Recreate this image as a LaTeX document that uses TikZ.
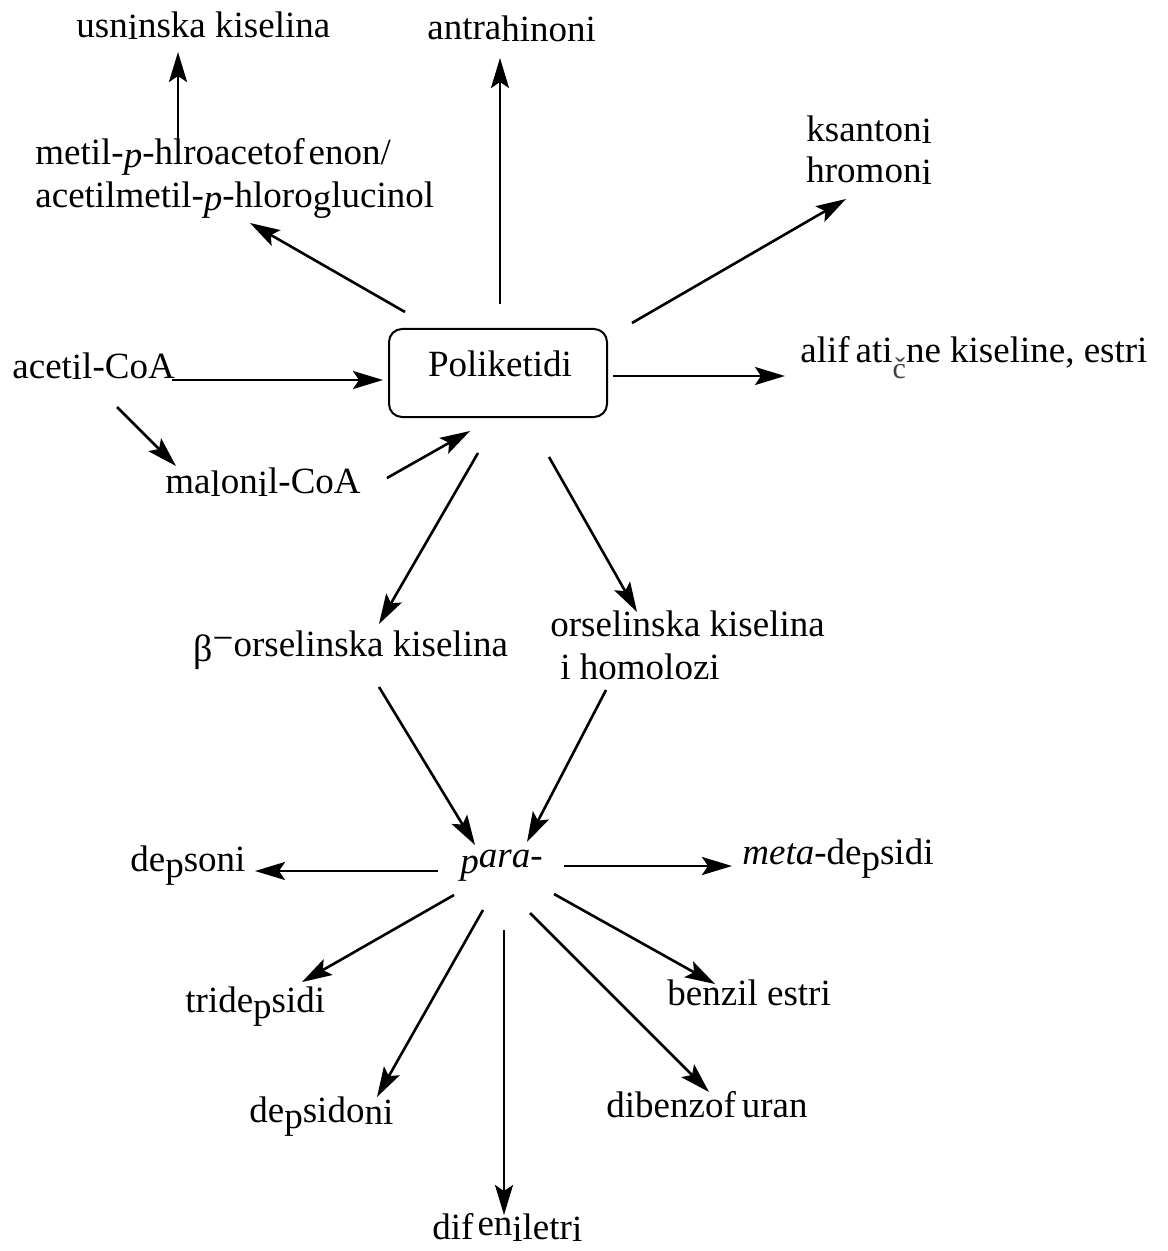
\documentclass[tikz,border=0pt]{standalone}
\usepackage{fontspec}
\setmainfont{Liberation Serif}
\usetikzlibrary{arrows.meta}
\newcommand\lowr[2][1.5pt]{\raisebox{-#1}{#2}}
\begin{document}
\begin{tikzpicture}[x=0.5pt,y=-0.5pt,
  lbl/.style={inner sep=0pt, anchor=base west, font=\fontsize{18.5}{21.5}\selectfont},
  arr/.style={line width=1.3pt, -{Stealth[length=15pt,width=9pt,inset=3pt]}},
  pbox/.style={draw, line width=1pt, rounded corners=6.5pt, minimum width=109pt, minimum height=44pt, inner sep=0pt}]
\useasboundingbox (0,0) rectangle (1167,1251);

% ---------- nodes ----------
\node[lbl] (usn) at (76,38) {usn\lowr[1pt]{i}nska kiselina};
\node[lbl] (antra) at (427,40) {antra\lowr[1pt]{hinoni}};
\node[lbl] (metil) at (35,165) {\begin{tabular}[t]{@{}l@{}}metil-\lowr{\textit{p}}-hlroacetof\kern2pt enon/\\ acetilmetil-\lowr{\textit{p}}-hloro\lowr{g}lucinol\end{tabular}};
\node[lbl] (ksan) at (806,142) {\begin{tabular}[t]{@{}l@{}}ksanton\lowr[1pt]{i}\\[-1pt] hromon\lowr[1pt]{i}\end{tabular}};
\node[lbl] (alif) at (800,363) {alif\kern3pt ati\raisebox{-8pt}{\color{black!75}\fontsize{15}{15}\selectfont č}ne kiseline, estri};
\node[pbox] (poli) at (498,373) {};
\node[lbl, anchor=base] (politxt) at (500,376) {Poliketidi};
\node[lbl] (acetil) at (12,378) {acet\lowr[1pt]{i}l-CoA};
\node[lbl] (malonil) at (165,493) {ma\lowr{l}on\lowr{i}l-CoA};
\node[lbl] (beta) at (193,656) {\lowr[2.5pt]{\fontsize{19}{19}\selectfont β}\raisebox{3pt}{−}orselinska kiselina};
\node[lbl] (orsel) at (550,636) {\begin{tabular}[t]{@{}l@{}}orselinska kiselina\\ \hspace*{5pt}i homolozi\end{tabular}};
\node[lbl] (para) at (460,873) {\textit{p}\raisebox{3pt}{\textit{ara-}}};
\node[lbl] (depsoni) at (130,871) {de\lowr[3pt]{p}soni};
\node[lbl] (meta) at (742,864) {\textit{meta}-de\lowr[3pt]{p}sidi};
\node[lbl] (tri) at (185,1012) {tride\lowr[3pt]{p}sidi};
\node[lbl] (depsidoni) at (249,1122) {de\lowr[3pt]{p}sido\lowr[1pt]{n}\lowr[1pt]{i}};
\node[lbl] (difen) at (432,1239) {dif\kern2pt\raisebox{2pt}{en}\lowr[1pt]{i}letr\lowr[1pt]{i}};
\node[lbl] (benzil) at (667,1005) {benzil estri};
\node[lbl] (dibenzo) at (606,1117) {dibenzof\kern3pt uran};

% ---------- connector end points ----------
\coordinate (metil-out) at (178,152);   \coordinate (usn-in) at (178,52);
\coordinate (poli-n)    at (500,304);   \coordinate (antra-in) at (500,58);
\coordinate (poli-nw)   at (405,312);   \coordinate (metil-in) at (250,223);
\coordinate (poli-ne)   at (632,323);   \coordinate (ksan-in) at (846,199);
\coordinate (poli-e)    at (613,376);   \coordinate (alif-in) at (785,376);
\coordinate (acetil-e)  at (172,380);   \coordinate (poli-w) at (383,380);
\coordinate (acetil-s)  at (117,407);   \coordinate (malonil-in) at (176,466);
\coordinate (malonil-e) at (387,478);   \coordinate (poli-sw) at (470,431);
\coordinate (poli-s1)   at (478,453);   \coordinate (beta-in) at (379,624);
\coordinate (poli-s2)   at (549,457);   \coordinate (orsel-in) at (637,612);
\coordinate (beta-out)  at (379,687);   \coordinate (para-n1) at (475,845);
\coordinate (orsel-out) at (606,690);   \coordinate (para-n2) at (527,842);
\coordinate (para-w)    at (438,871);   \coordinate (depsoni-in) at (255,871);
\coordinate (para-e)    at (564,866);   \coordinate (meta-in) at (732,866);
\coordinate (para-sw1)  at (454,895);   \coordinate (tri-in) at (302,982);
\coordinate (para-sw2)  at (483,910);   \coordinate (depsidoni-in) at (377,1097);
\coordinate (para-s)    at (504,930);   \coordinate (difen-in) at (504,1215);
\coordinate (para-se2)  at (530,913);   \coordinate (dibenzo-in) at (709,1092);
\coordinate (para-se1)  at (554,894);   \coordinate (benzil-in) at (715,984);

% ---------- connectors ----------
\draw[arr] (metil-out) -- (usn-in);
\draw[arr] (poli-n) -- (antra-in);
\draw[arr] (poli-nw) -- (metil-in);
\draw[arr] (poli-ne) -- (ksan-in);
\draw[arr] (poli-e) -- (alif-in);
\draw[arr] (acetil-e) -- (poli-w);
\draw[arr] (acetil-s) -- (malonil-in);
\draw[arr] (malonil-e) -- (poli-sw);
\draw[arr] (poli-s1) -- (beta-in);
\draw[arr] (poli-s2) -- (orsel-in);
\draw[arr] (beta-out) -- (para-n1);
\draw[arr] (orsel-out) -- (para-n2);
\draw[arr] (para-w) -- (depsoni-in);
\draw[arr] (para-e) -- (meta-in);
\draw[arr] (para-sw1) -- (tri-in);
\draw[arr] (para-sw2) -- (depsidoni-in);
\draw[arr] (para-s) -- (difen-in);
\draw[arr] (para-se2) -- (dibenzo-in);
\draw[arr] (para-se1) -- (benzil-in);
\end{tikzpicture}
\end{document}
